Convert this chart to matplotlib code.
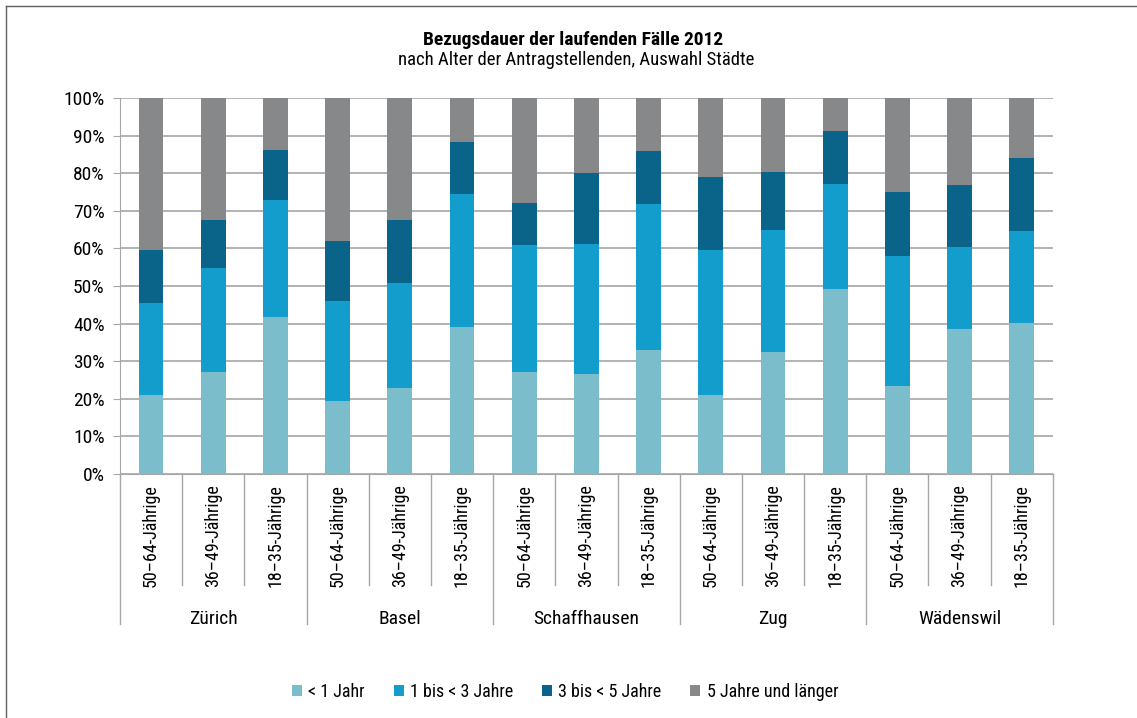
import matplotlib
matplotlib.use('Agg')
import matplotlib.pyplot as plt
from matplotlib.lines import Line2D
import numpy as np

plt.rcParams['font.family'] = ['Roboto Condensed', 'Open Sans', 'DejaVu Sans']
plt.rcParams['font.stretch'] = 'condensed'

staedte = ['Zürich', 'Basel', 'Schaffhausen', 'Zug', 'Wädenswil']
alter = ['50–64-Jährige', '36–49-Jährige', '18–35-Jährige']

# Anteile in Prozent, je Stadt drei Altersgruppen
unter_1 = [20.9, 27.2, 41.7, 19.3, 22.8, 39.2, 27.2, 26.6, 33.1, 20.9, 32.4, 49.1, 23.3, 38.5, 40.2]
bis_3 = [24.6, 27.7, 31.1, 26.6, 27.9, 35.2, 33.6, 34.6, 38.7, 38.7, 32.6, 27.9, 34.6, 21.9, 24.3]
bis_5 = [14.0, 12.6, 13.4, 16.0, 16.8, 14.0, 11.3, 18.8, 14.1, 19.5, 15.4, 14.2, 17.1, 16.5, 19.6]
laenger = [40.5, 32.5, 13.8, 38.1, 32.5, 11.6, 27.9, 20.0, 14.1, 20.9, 19.6, 8.8, 25.0, 23.1, 15.9]

serien = [unter_1, bis_3, bis_5, laenger]
namen = ['< 1 Jahr', '1 bis < 3 Jahre', '3 bis < 5 Jahre', '5 Jahre und länger']
farben = ['#7bbdcb', '#139dcd', '#0a6389', '#87888a']

fs = 13

fig = plt.figure(figsize=(11.37, 7.18), dpi=100)
ax = fig.add_axes([0.1055, 0.3398, 0.8205, 0.5237])

x = np.arange(len(unter_1))
boden = np.zeros(len(x))
for werte, name, farbe in zip(serien, namen, farben):
    ax.bar(x, werte, bottom=boden, width=0.4, color=farbe, label=name, zorder=3)
    boden += np.array(werte)

ax.set_xlim(-0.5, len(x) - 0.5)
ax.set_ylim(0, 100)
ax.set_yticks(np.arange(0, 101, 10))
ax.set_yticklabels(['%d%%' % v for v in range(0, 101, 10)], fontsize=14)
ax.yaxis.grid(True, color='#a6a6a6', linewidth=1.2, zorder=0)
ax.tick_params(axis='y', length=5, color='#a6a6a6', pad=6)
ax.set_xticks([])
for s in ['top', 'right']:
    ax.spines[s].set_visible(False)
ax.spines['left'].set_color('#a6a6a6')
ax.spines['bottom'].set_color('#a6a6a6')

# Kategorien-Achse mit Trennlinien
trans = ax.get_xaxis_transform()
for i in range(len(x) + 1):
    unten = -0.40 if i % 3 == 0 else -0.296
    ax.plot([i - 0.5, i - 0.5], [0, unten], transform=trans, color='#a6a6a6',
            linewidth=1, clip_on=False)
for i in x:
    ax.text(i, -0.026, alter[i % 3], transform=trans, rotation=90,
            ha='center', va='top', fontsize=fs)
for g, stadt in enumerate(staedte):
    ax.text(3 * g + 1, -0.385, stadt, transform=trans, ha='center', va='center',
            fontsize=14)

fig.text(0.504, 0.944, 'Bezugsdauer der laufenden Fälle 2012', ha='center',
         va='center', fontsize=14, fontweight='bold')
fig.text(0.507, 0.917, 'nach Alter der Antragstellenden, Auswahl Städte', ha='center',
         va='center', fontsize=13.5)

fig.legend(loc='center', bbox_to_anchor=(0.497, 0.036), ncol=4, frameon=False,
           fontsize=fs, handlelength=0.55, handleheight=0.55, handletextpad=0.35,
           columnspacing=1.6)

# Rahmen oben und links
fig.add_artist(Line2D([0.005, 0.005], [0, 0.991], transform=fig.transFigure,
                      color='#606060', linewidth=1))
fig.add_artist(Line2D([0.005, 1], [0.991, 0.991], transform=fig.transFigure,
                      color='#606060', linewidth=1))

plt.savefig('out.png', dpi=100)
